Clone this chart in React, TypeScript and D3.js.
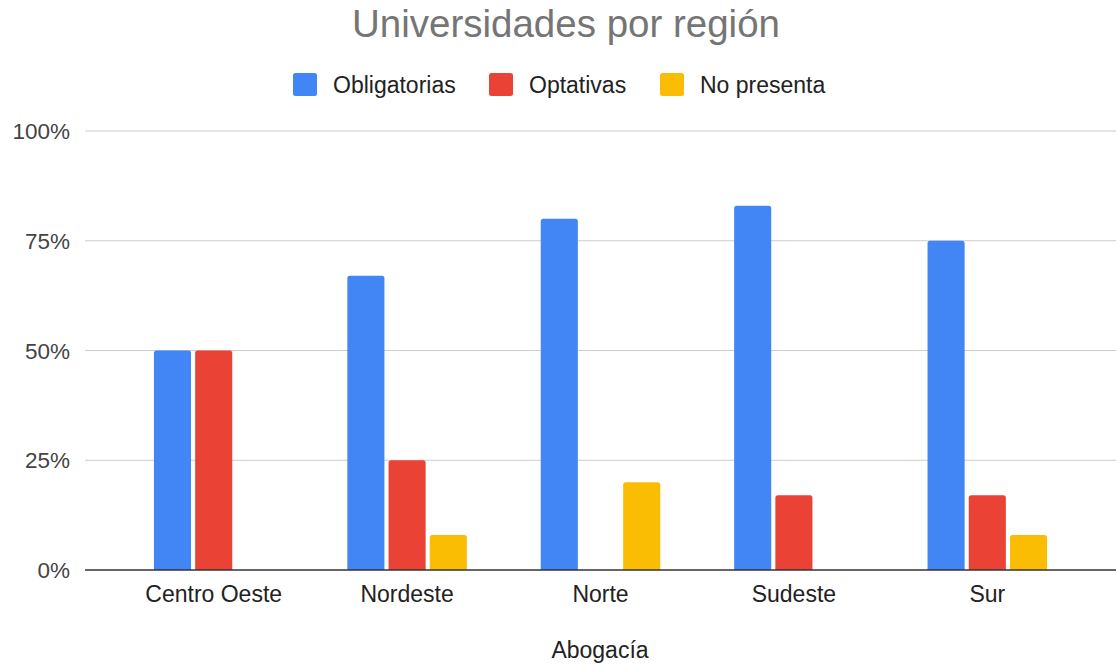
import React from "react";
import * as d3 from "d3";

const categories = ["Centro Oeste", "Nordeste", "Norte", "Sudeste", "Sur"];
const seriesNames = ["Obligatorias", "Optativas", "No presenta"];
const obligatorias = [0.5, 0.67, 0.8, 0.83, 0.75];
const optativas = [0.5, 0.25, 0, 0.17, 0.17];
const noPresenta = [0, 0.08, 0.2, 0, 0.08];
const yTicks = [0, 0.25, 0.5, 0.75, 1];
const colors = ["#4285F4", "#EA4335", "#FBBC04"];
const title = "Universidades por región";
const xTitle = "Abogacía";

const W = 1117;
const H = 665;
const FONT = "Arial, 'Liberation Sans', sans-serif";

function topRoundedRect(x: number, y: number, w: number, h: number, r: number) {
  if (h <= 0) return "";
  const rr = Math.min(r, h, w / 2);
  return `M${x},${y + h}V${y + rr}Q${x},${y} ${x + rr},${y}H${x + w - rr}Q${x + w},${y} ${x + w},${y + rr}V${y + h}Z`;
}

export default function App() {
  const series = [obligatorias, optativas, noPresenta];
  const x0 = d3.scaleBand<string>().domain(categories).range([117, 1084]).paddingInner(0).paddingOuter(0);
  const groupW = x0.bandwidth() * 0.618;
  const x1 = d3.scaleBand<string>().domain(seriesNames).range([0, groupW]).paddingInner(0.1);
  const y = d3.scaleLinear().domain([0, 1]).range([570, 131]);
  const gridX1 = 85;
  const gridX2 = 1116;
  const fmt = d3.format(".0%");

  const legendItems = [
    { name: seriesNames[0], sx: 293, tx: 333 },
    { name: seriesNames[1], sx: 489, tx: 529 },
    { name: seriesNames[2], sx: 660, tx: 700 },
  ];

  return (
    <svg width={W} height={H} style={{ position: "absolute", left: 0, top: 0, background: "#fff" }} fontFamily={FONT}>
      <rect x={0} y={0} width={W} height={H} fill="#fff" />
      <text x={566} y={37} textAnchor="middle" fontSize={38.5} fill="#757575">{title}</text>
      {legendItems.map((l, i) => (
        <g key={l.name}>
          <rect x={l.sx} y={73} width={24} height={23} rx={2.5} fill={colors[i]} />
          <text x={l.tx} y={93} fontSize={23} fill="#222">{l.name}</text>
        </g>
      ))}
      {yTicks.map((t) => (
        <g key={t}>
          {t > 0 && <line x1={gridX1} x2={gridX2} y1={y(t)} y2={y(t)} stroke="#cccccc" strokeWidth={1} />}
          <text x={70} y={y(t) + 8} textAnchor="end" fontSize={22.5} fill="#444">{fmt(t)}</text>
        </g>
      ))}
      {categories.map((c, ci) => {
        const gx = (x0(c) as number) + (x0.bandwidth() - groupW) / 2;
        return (
          <g key={c}>
            {series.map((s, si) => {
              const bx = gx + (x1(seriesNames[si]) as number);
              const by = y(s[ci]);
              const bh = y(0) - by;
              return <path key={si} d={topRoundedRect(bx, by, x1.bandwidth(), bh, 2.5)} fill={colors[si]} />;
            })}
            <text x={(x0(c) as number) + x0.bandwidth() / 2} y={602} textAnchor="middle" fontSize={23} fill="#222">{c}</text>
          </g>
        );
      })}
      <line x1={gridX1} x2={gridX2} y1={y(0)} y2={y(0)} stroke="#333" strokeWidth={1.5} />
      <text x={600} y={658} textAnchor="middle" fontSize={23} fill="#222">{xTitle}</text>
    </svg>
  );
}
